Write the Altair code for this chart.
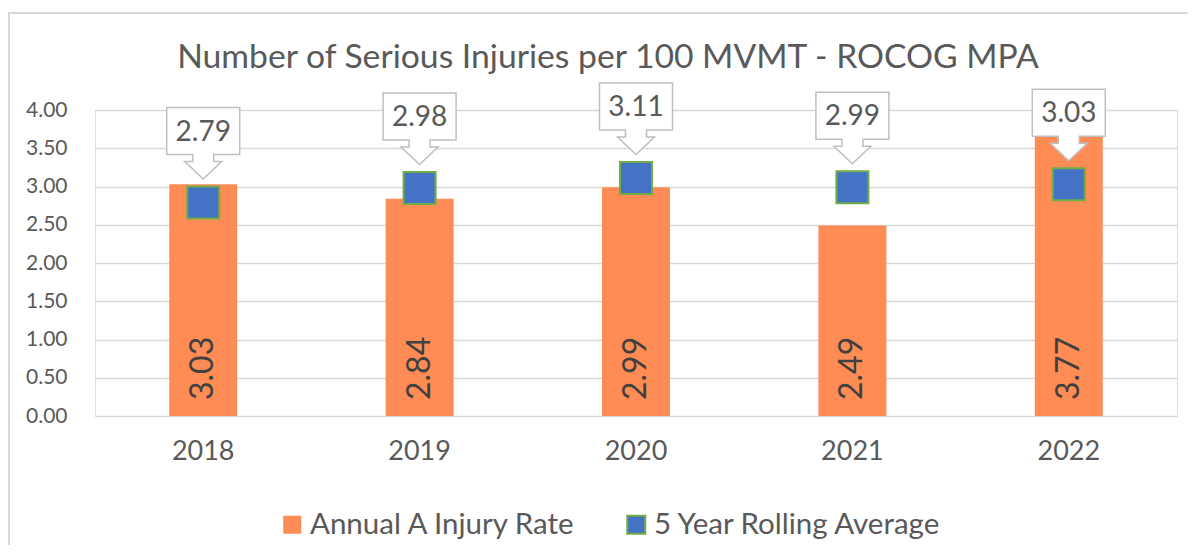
import altair as alt
import pandas as pd

# ---- data ----
years = ["2018", "2019", "2020", "2021", "2022"]
annual_rate = [3.03, 2.84, 2.99, 2.49, 3.77]
rolling_avg = [2.79, 2.98, 3.11, 2.99, 3.03]
y_ticks = [0, 0.5, 1, 1.5, 2, 2.5, 3, 3.5, 4]
series_names = ["Annual A Injury Rate", "5 Year Rolling Average"]
title_text = ["Number of Serious Injuries per 100 MVMT - ROCOG MPA"]

df = pd.DataFrame({
    "year": years,
    "annual": annual_rate,
    "rolling": rolling_avg,
    "s_bar": [series_names[0]] * len(years),
    "s_pt": [series_names[1]] * len(years),
})
title_df = pd.DataFrame({"title": title_text})

FONT = "Lato"
TEXT = "#595959"
ORANGE = "#FF8C55"
BLUE = "#4472C4"
GREEN = "#70AD47"
GRID = "#D9D9D9"

# callout shape (box + down arrow), units of sqrt(size)/2 px
CALLOUT = ("M-3.65,-9.5 H3.65 V-4.8 H1.05 V-4.1 H1.85 L0,-2.35 "
           "L-1.85,-4.1 H-1.05 V-4.8 H-3.65 Z")

x_enc = alt.X(
    "year:N",
    sort=years,
    scale=alt.Scale(paddingInner=0.686, paddingOuter=0.343),
    axis=alt.Axis(title=None, labelAngle=0, labelFontSize=27, labelColor=TEXT,
                  labelFont=FONT, ticks=False, domain=False, labelPadding=22,
                  grid=False),
)

y_scale = alt.Scale(domain=[0, 4], nice=False)
y_axis = alt.Axis(title=None, values=y_ticks, format=".2f",
                  labelFontSize=21, labelColor=TEXT, labelFont=FONT,
                  ticks=False, domain=False, labelPadding=28,
                  labelOverlap=False, gridColor=GRID, gridWidth=1.5)

border = alt.Chart(title_df).mark_rect(fill="white", fillOpacity=0, stroke=GRID,
                                       strokeWidth=2).encode(
    x=alt.value(-86), x2=alt.value(1200),
    y=alt.value(-97), y2=alt.value(800),
)

title = alt.Chart(title_df).mark_text(
    fontSize=33.7, font=FONT, color=TEXT, baseline="alphabetic", align="center",
).encode(
    x=alt.value(513), y=alt.value(-42), text="title:N",
)

legend_common = dict(title=None, orient="none", legendY=400,
                     symbolType="square", symbolSize=324, labelFontSize=29.5,
                     labelFont=FONT, labelColor=TEXT, labelOffset=3,
                     padding=0, labelLimit=0, symbolOpacity=1)

bars = alt.Chart(df).mark_bar().encode(
    x=x_enc,
    y=alt.Y("annual:Q", scale=y_scale, axis=y_axis),
    color=alt.Color("s_bar:N",
                    scale=alt.Scale(domain=[series_names[0]], range=[ORANGE]),
                    legend=alt.Legend(legendX=182.5, symbolStrokeWidth=0,
                                      **legend_common)),
)

bar_labels = alt.Chart(df).mark_text(
    angle=270, align="left", baseline="middle", dx=16, fontSize=32,
    font=FONT, color="#404040",
).encode(
    x=x_enc,
    y=alt.Y(datum=0, scale=y_scale, axis=y_axis),
    text=alt.Text("annual:Q", format=".2f"),
)

points = alt.Chart(df).mark_square(size=1024, stroke=GREEN, strokeWidth=2,
                                   opacity=1, filled=True).encode(
    x=x_enc,
    y=alt.Y("rolling:Q", scale=y_scale, axis=y_axis),
    fill=alt.Fill("s_pt:N",
                  scale=alt.Scale(domain=[series_names[1]], range=[BLUE]),
                  legend=alt.Legend(legendX=526.5, symbolStrokeColor=GREEN,
                                    symbolStrokeWidth=2, **legend_common)),
)

callouts = alt.Chart(df).mark_point(
    shape=CALLOUT, size=400, filled=True, fill="white", stroke="#BFBFBF",
    strokeWidth=1.5, opacity=1,
).encode(
    x=x_enc,
    y=alt.Y("rolling:Q", scale=y_scale, axis=y_axis),
)

callout_text = alt.Chart(df).mark_text(
    dy=-70, fontSize=28, font=FONT, color=TEXT, baseline="middle",
).encode(
    x=x_enc,
    y=alt.Y("rolling:Q", scale=y_scale, axis=y_axis),
    text=alt.Text("rolling:Q", format=".2f"),
)

chart = alt.layer(
    border, title, bars, bar_labels, points, callouts, callout_text
).resolve_scale(
    color="independent", fill="independent"
).properties(
    width=1082,
    height=306,
    autosize="none",
    padding={"left": 87, "top": 102, "right": 11, "bottom": 129},
).configure_view(stroke=None).configure(background="white")

chart.save("out.html", embed_options={"renderer": "svg", "actions": False})
